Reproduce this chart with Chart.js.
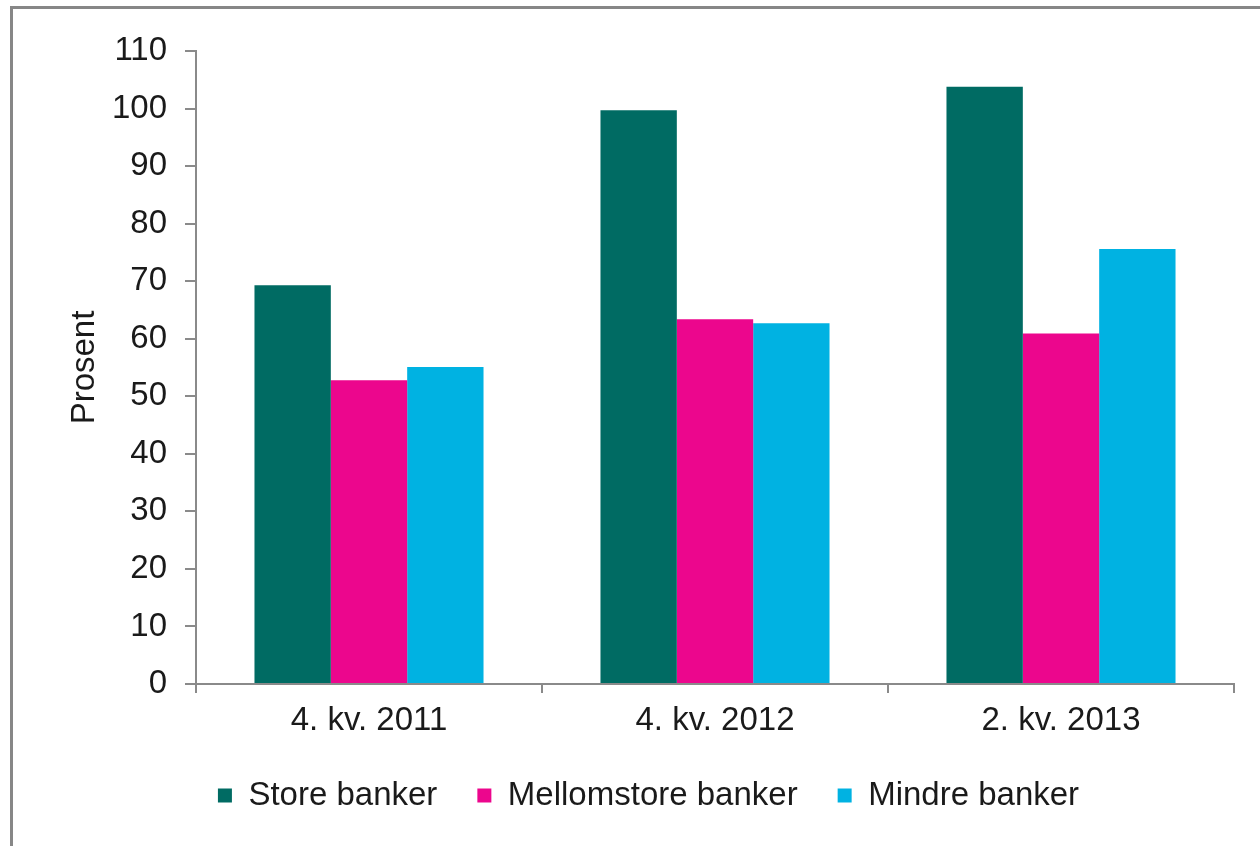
<!DOCTYPE html>
<html>
<head>
<meta charset="utf-8">
<script src="https://cdn.jsdelivr.net/npm/chart.js@4"></script>
<style>
    html, body { margin: 0; padding: 0; background: #fff; overflow: hidden; }
    #frame {
        position: absolute;
        left: 10px;
        top: 6px;
        width: 1250px;
        height: 840px;
        border-top: 3px solid #878787;
        border-left: 3px solid #878787;
    }
    #bankChart { display: block; }
</style>
</head>
<body>
<div id="frame">
    <canvas id="bankChart" width="1247" height="837"></canvas>
</div>
<script>
const quarters = ['4. kv. 2011', '4. kv. 2012', '2. kv. 2013'];
const storeBanker = [69.3, 99.7, 103.8];
const mellomstoreBanker = [52.8, 63.4, 60.9];
const mindreBanker = [55.1, 62.7, 75.6];
const yTicks = [0, 10, 20, 30, 40, 50, 60, 70, 80, 90, 100, 110];

const FONT = "'Liberation Sans', Arial, sans-serif";
const AXIS_GREY = '#8a8a8a';
const TEXT = '#1a1a1a';

document.addEventListener("DOMContentLoaded", function() {
    const ctx = document.getElementById("bankChart").getContext("2d");

    const bankChart = new Chart(ctx, {
        type: 'bar',
        data: {
            labels: quarters,
            datasets: [{
                label: 'Store banker',
                data: storeBanker,
                backgroundColor: '#006b63'
            }, {
                label: 'Mellomstore banker',
                data: mellomstoreBanker,
                backgroundColor: '#ec068d'
            }, {
                label: 'Mindre banker',
                data: mindreBanker,
                backgroundColor: '#00b2e2'
            }]
        },
        options: {
            responsive: false,
            animation: false,
            devicePixelRatio: 1,
            layout: {
                padding: { top: 42, right: 26, left: 50, bottom: 24 }
            },
            datasets: {
                bar: {
                    categoryPercentage: 0.662,
                    barPercentage: 1.0,
                    borderWidth: 0
                }
            },
            plugins: {
                tooltip: { enabled: false },
                legend: {
                    position: 'bottom',
                    labels: {
                        font: { family: FONT, size: 33 },
                        color: TEXT,
                        boxWidth: 14,
                        boxHeight: 14,
                        padding: 40
                    }
                }
            },
            scales: {
                x: {
                    afterFit: function(scale) { scale.height = 55; },
                    grid: {
                        display: true,
                        drawOnChartArea: false,
                        offset: true,
                        color: AXIS_GREY,
                        lineWidth: 2,
                        tickLength: 9
                    },
                    border: { color: AXIS_GREY, width: 2 },
                    ticks: {
                        font: { family: FONT, size: 33 },
                        color: TEXT,
                        padding: 8
                    }
                },
                y: {
                    min: 0,
                    max: 110,
                    afterFit: function(scale) { scale.width = 133; },
                    afterBuildTicks: function(scale) {
                        scale.ticks = yTicks.map(v => ({ value: v }));
                    },
                    grid: {
                        display: true,
                        drawOnChartArea: false,
                        color: AXIS_GREY,
                        lineWidth: 2,
                        tickLength: 11
                    },
                    border: { color: AXIS_GREY, width: 2 },
                    ticks: {
                        font: { family: FONT, size: 33 },
                        color: TEXT,
                        padding: 18
                    },
                    title: {
                        display: true,
                        text: 'Prosent',
                        font: { family: FONT, size: 33 },
                        color: TEXT,
                        padding: { top: 2, bottom: 0 }
                    }
                }
            }
        }
    });
});
</script>
</body>
</html>
